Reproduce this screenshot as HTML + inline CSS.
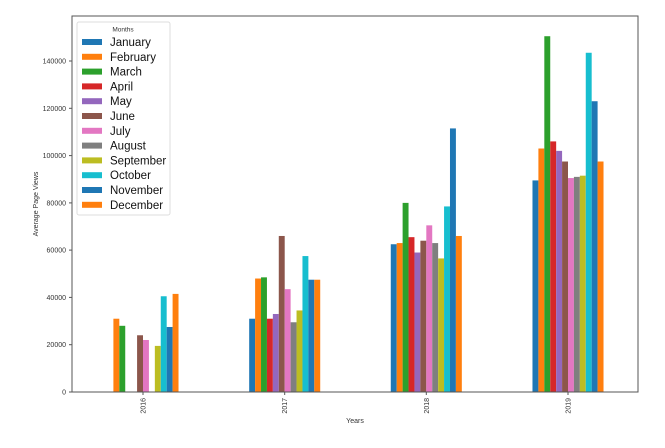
<!DOCTYPE html>
<html><head><style>body{margin:0;background:#fff}svg{display:block;font-family:"Liberation Sans","DejaVu Sans",sans-serif}</style></head><body>
<svg width="665" height="448" viewBox="0 0 665 448" xmlns="http://www.w3.org/2000/svg">
<rect width="665" height="448" fill="#fff"/>
<g id="bars"></g>
<rect x="72" y="16" width="566" height="376" fill="none" stroke="#555" stroke-width="1"/>
<g font-size="7" fill="#333" text-anchor="end">
<text x="66" y="394.5">0</text><line x1="69" x2="72" y1="392" y2="392" stroke="#555"/>
<text x="66" y="347.2">20000</text><line x1="69" x2="72" y1="344.7" y2="344.7" stroke="#555"/>
<text x="66" y="299.9">40000</text><line x1="69" x2="72" y1="297.4" y2="297.4" stroke="#555"/>
<text x="66" y="252.6">60000</text><line x1="69" x2="72" y1="250.1" y2="250.1" stroke="#555"/>
<text x="66" y="205.4">80000</text><line x1="69" x2="72" y1="202.9" y2="202.9" stroke="#555"/>
<text x="66" y="158.1">100000</text><line x1="69" x2="72" y1="155.6" y2="155.6" stroke="#555"/>
<text x="66" y="110.8">120000</text><line x1="69" x2="72" y1="108.3" y2="108.3" stroke="#555"/>
<text x="66" y="63.5">140000</text><line x1="69" x2="72" y1="61" y2="61" stroke="#555"/>
</g>
<g font-size="7" fill="#333" id="xt"></g>
<text x="355" y="423" font-size="7" fill="#333" text-anchor="middle">Years</text>
<text transform="translate(38,204) rotate(-90)" font-size="7" fill="#333" text-anchor="middle">Average Page Views</text>
<rect x="77" y="22" width="93" height="193" fill="#fff" fill-opacity="0.85" stroke="#ddd" rx="2"/>
<text x="123" y="31.5" font-size="6.5" fill="#333" text-anchor="middle">Months</text>
<g id="leg" font-size="11.5" fill="#111"></g>
</svg>
<script>
var C=["#1f77b4","#ff7f0e","#2ca02c","#d62728","#9467bd","#8c564b","#e377c2","#7f7f7f","#bcbd22","#17becf","#1f77b4","#ff7f0e"];
var M=["January","February","March","April","May","June","July","August","September","October","November","December"];
var D=[[0,31000,28000,0,0,24000,22000,0,19500,40500,27500,41500],
[31000,48000,48500,31000,33000,66000,43500,29500,34500,57500,47500,47500],
[62500,63000,80000,65500,59000,64000,70500,63000,56500,78500,111500,66000],
[89500,103000,150500,106000,102000,97500,90500,91000,91500,143500,123000,97500]];
var ns="http://www.w3.org/2000/svg",b=document.getElementById("bars"),xt=document.getElementById("xt"),lg=document.getElementById("leg");
var cx=[143,284.7,426.3,568],w=5.92;
for(var g=0;g<4;g++){for(var i=0;i<12;i++){var h=D[g][i]*0.002364;if(h<=0)continue;var r=document.createElementNS(ns,"rect");r.setAttribute("x",cx[g]-6*w+i*w);r.setAttribute("y",392-h);r.setAttribute("width",w);r.setAttribute("height",h);r.setAttribute("fill",C[i]);b.appendChild(r);}
var t=document.createElementNS(ns,"text");t.setAttribute("transform","translate("+(cx[g]+2.5)+",398) rotate(-90)");t.setAttribute("text-anchor","end");t.textContent=2016+g;xt.appendChild(t);
var l=document.createElementNS(ns,"line");l.setAttribute("x1",cx[g]);l.setAttribute("x2",cx[g]);l.setAttribute("y1",392);l.setAttribute("y2",395);l.setAttribute("stroke","#555");xt.appendChild(l);}
for(var i=0;i<12;i++){var y=42+i*14.8;var r=document.createElementNS(ns,"rect");r.setAttribute("x",82);r.setAttribute("y",y-3);r.setAttribute("width",20);r.setAttribute("height",6);r.setAttribute("fill",C[i]);lg.appendChild(r);
var t=document.createElementNS(ns,"text");t.setAttribute("x",110);t.setAttribute("y",y+4);t.textContent=M[i];lg.appendChild(t);}
</script>
</body></html>
